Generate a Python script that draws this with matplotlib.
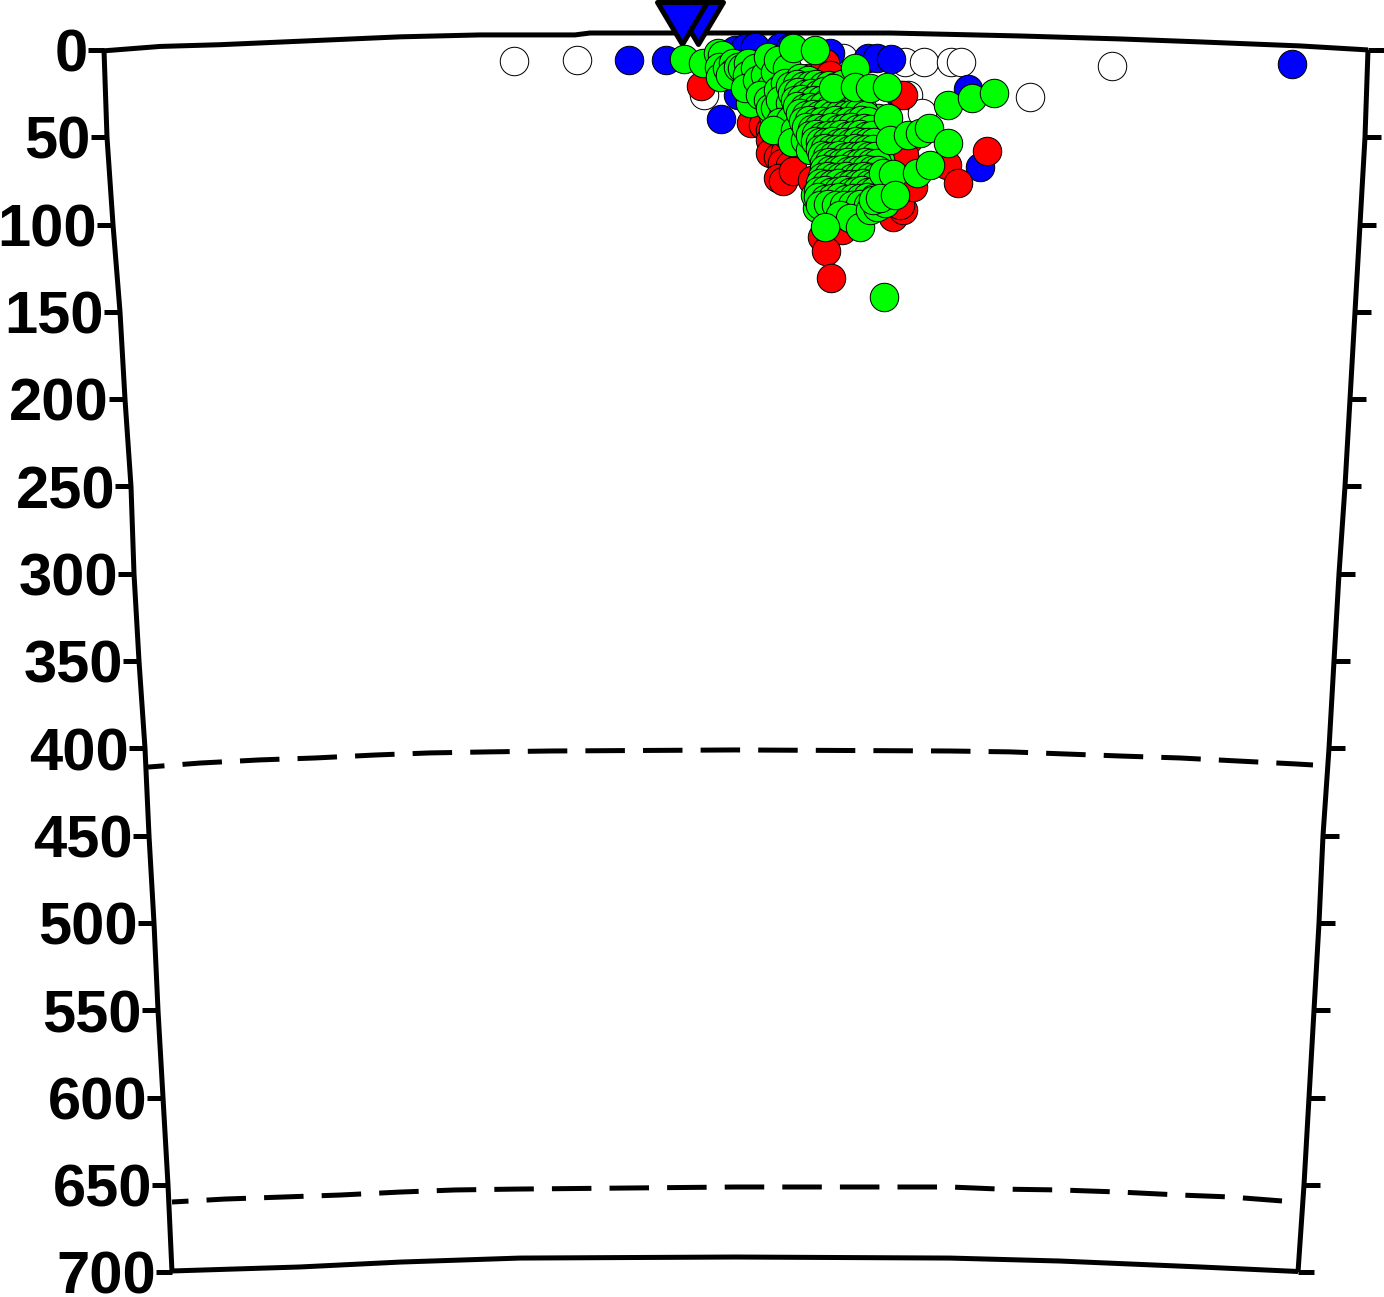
import matplotlib
matplotlib.use("Agg")
import matplotlib.pyplot as plt
from matplotlib.path import Path

# depth ticks and the curved frame (x = distance along the section, y = depth in km)
depth_ticks = [0, 50, 100, 150, 200, 250, 300, 350, 400, 450, 500, 550, 600, 650, 700]
left_edge_x = [104, 107, 113, 120, 125, 131, 134, 139, 145, 149, 154, 158, 163, 168, 172]
right_edge_x = [1368, 1365, 1360, 1355, 1350, 1345, 1339, 1334, 1329, 1323, 1319, 1314, 1309, 1304, 1298]

top_x = [104, 160, 220, 300, 400, 480, 575, 590, 890, 1020, 1120, 1200, 1300, 1368]
top_depth = [0.5, -2, -3, -5, -7.5, -8.6, -8.6, -9.7, -9.7, -8, -6.3, -4.6, -2.3, 0]
bottom_x = [172, 300, 400, 520, 735, 950, 1060, 1200, 1298]
bottom_depth = [699.3, 697, 694.2, 691.9, 691.3, 691.9, 693.6, 697, 699.6]

d410_x = [148, 200, 260, 315, 375, 430, 490, 550, 735, 950, 1010, 1065, 1122, 1180, 1237, 1295, 1313]
d410_depth = [410.7, 408.4, 406.6, 405.5, 403.8, 402.6, 402, 401.5, 400.9, 401.5, 402, 403.2, 404.4, 405.5, 407.2, 408.9, 409.5]
d660_x = [172, 225, 285, 340, 400, 455, 515, 735, 950, 1000, 1060, 1120, 1180, 1230, 1282]
d660_depth = [659.8, 658.1, 656.9, 655.8, 654.1, 652.9, 652.4, 651.2, 651.2, 652.4, 652.9, 654.1, 655.8, 656.9, 659.2]

# stations
station_x = [698, 682]
station_depth = [-15.5, -15.5]

# events, one pair of lists per class
white_x = [514, 577, 704, 843, 905, 924, 951, 961, 1030, 1112, 908, 922]
white_depth = [6.3, 5.7, 25.8, 4.6, 6.9, 6.9, 6.9, 6.9, 26.9, 9.2, 25.8, 36]

blue_x = [629, 666, 721, 738, 735, 745, 755, 780, 790, 830, 868, 877, 891, 968, 980, 1292, 900, 820]
blue_depth = [5.7, 5.7, 39.5, 25.8, 0, -1, -1.7, -1.7, -1, 1.7, 4.6, 4.6, 5.2, 22.3, 67, 8, 25.8, 88.8]

red_x = [701, 751, 763, 770, 770, 773, 770, 778, 785, 782, 790, 778, 783, 793, 812, 808, 825, 830, 826,
         822, 842, 826, 831, 893, 903, 900, 913, 908, 905, 904, 947, 958, 903, 987]
red_depth = [20.6, 41.8, 43, 45.8, 51.5, 57.3, 59, 61.3, 58.4, 64.7, 65.9, 73.3, 75, 69.3, 74.5, 16, 7.4, 14.3, 21.8,
             107.1, 103.1, 115.1, 130.6, 95.6, 91.6, 88.8, 78.5, 51.5, 63, 60.1, 65.9, 76.2, 25.8, 57.8]

# green: shallow chain on the left, then what lies under the core
green_x = [684, 703, 718, 722, 719, 720, 727, 733, 733, 730, 738, 742, 748, 747, 755, 753, 750, 745, 757, 765,
           770, 768, 775, 778, 760, 768, 773, 770, 775, 783, 778, 790, 787, 793, 815, 785, 800, 780, 790, 795,
           800, 780, 790, 787, 773, 795, 800, 792, 805, 810, 808,
           817, 815, 878, 882, 880, 875, 880]
green_depth = [5.2, 7.4, 1.7, 2.9, 9.7, 15.5, 10.3, 7.4, 12.6, 14.3, 9.7, 10.3, 7.4, 14.3, 10.3, 21.2, 30.4, 21.8, 17.2, 14.3,
               21.8, 4, 12.6, 5.7, 25.8, 28.6, 37.2, 33.2, 33.2, 37.2, 22.9, 21.8, 10.3, -1.1, 0, 18.9, 16, 28.6, 30.4, 28.6,
               24, 41.2, 40.1, 48.7, 45.8, 45.8, 35.5, 52.7, 51.5, 57.3, 17.2,
               90.5, 83, 38.9, 42.9, 51.5, 57.3, 63]

# green: the dense core, read row by row
green_x += [790, 797, 803, 810, 816, 823, 829, 836, 842,
            792, 798, 805, 811, 818, 824, 831, 837, 844, 850,
            795, 801, 808, 814, 821, 827, 834, 840, 847, 853, 860,
            797, 804, 810, 817, 823, 830, 836, 843, 849, 856, 862,
            800, 806, 813, 819, 826, 832, 839, 845, 852, 858, 865,
            803, 809, 816, 822, 829, 835, 842, 848, 855, 861, 868,
            806, 812, 818, 825, 831, 838, 844, 851, 857, 864, 870,
            810, 816, 822, 828, 834, 841, 847, 853, 860, 866, 872,
            815, 820, 826, 832, 838, 844, 850, 856, 862, 868, 874,
            820, 825, 831, 837, 843, 849, 855, 861, 867, 873,
            822, 827, 833, 839, 845, 851, 857, 863, 869, 875,
            824, 829, 835, 841, 847, 853, 859, 865, 871, 877,
            824, 830, 836, 842, 848, 854, 860, 866, 872, 878,
            822, 828, 834, 840, 846, 852, 858, 864, 870, 876,
            820, 826, 832, 838, 845, 851, 857, 863, 869, 875,
            818, 825, 831, 838, 844, 850, 856, 862, 868, 874,
            818, 825, 832, 839, 846, 853, 860, 867, 874,
            820, 828, 836, 844, 852, 860, 868, 876]
green_depth += [20.4, 19.6, 20.9, 20, 19.3, 20.7, 19.9, 20.5, 19.5,
                24.8, 24, 25.3, 24.4, 25, 23.8, 24.9, 24.2, 25.4, 24.6,
                28.9, 28, 29.4, 28.4, 28.9, 29.6, 28.2, 28.8, 29.3, 28.1, 29,
                32.2, 33.2, 32.6, 33, 32, 33.4, 32.5, 33.1, 32.3, 32.9, 33.3,
                36.3, 37, 36.7, 37.4, 36.1, 37.2, 36.5, 37.1, 36.9, 36.2, 37.3,
                40.9, 40.2, 41.2, 40.5, 41, 40, 41.3, 40.6, 41.1, 40.4, 40.8,
                44.3, 45, 44.6, 45.3, 44.1, 45.1, 44.7, 44.4, 45.2, 44.8, 45,
                48.9, 48.3, 49.2, 48.6, 49, 48.1, 49.3, 48.7, 48.4, 49.1, 48.8,
                52.4, 53, 52.7, 52.2, 53.2, 52.6, 53.1, 52.3, 52.9, 52.5, 53,
                56.9, 56.3, 57, 56.5, 56.8, 57.2, 56.4, 56.9, 56.6, 57,
                60.4, 61, 60.7, 60.2, 61.2, 60.6, 60.9, 60.3, 61, 60.5,
                64.9, 64.3, 65, 64.6, 64.2, 65.1, 64.7, 64.4, 65, 64.6,
                68.4, 69, 68.7, 68.2, 69.1, 68.6, 68.9, 68.3, 69, 68.5,
                72.9, 72.3, 73, 72.6, 72.2, 73.1, 72.7, 72.4, 73, 72.6,
                76.4, 77, 76.7, 76.2, 77.1, 76.6, 76.9, 76.3, 77, 76.5,
                81, 80.4, 81.1, 80.7, 80.3, 81.2, 80.8, 80.5, 81.1, 80.6,
                84.5, 85.1, 84.8, 84.3, 85.2, 84.7, 85, 84.4, 85,
                88.9, 88.3, 89, 88.6, 88.9, 88.4, 89, 88.6]

# green: the outer ones that sit on top
green_x += [840, 850, 825, 860, 870, 877, 885, 855, 833, 855, 870, 887, 888, 890,
            908, 920, 929, 948, 948, 972, 994, 883, 893, 917, 930, 873, 880, 895, 884]
green_depth += [94.5, 96.2, 101.4, 101.4, 91.6, 89.9, 87.6, 10.3, 21.8, 21.2, 21.8, 21.2, 38.9, 51.5,
                48.7, 47.5, 44.7, 53.3, 31.5, 27.5, 24.6, 70.4, 71, 70.4, 65.9, 85.9, 84.8, 83, 141.5]

fig = plt.figure(figsize=(13.84, 12.97), dpi=100)
ax = fig.add_axes([0, 0, 1, 1])
ax.set_xlim(0, 1384)
ax.set_ylim(714.2, -28.6)
ax.axis("off")

lw = 3.6
for xs, ds in [(top_x, top_depth), (bottom_x, bottom_depth), (left_edge_x, depth_ticks), (right_edge_x, depth_ticks)]:
    ax.plot(xs, ds, color="black", lw=lw, solid_capstyle="butt", solid_joinstyle="miter")

# ticks go 16 px outwards on both edges
for d, xl, xr in zip(depth_ticks, left_edge_x, right_edge_x):
    ax.plot([xl - 16, xl], [d, d], color="black", lw=lw, solid_capstyle="butt")
    ax.plot([xr, xr + 16], [d, d], color="black", lw=lw, solid_capstyle="butt")
    ax.annotate(str(d), (xl - 16, d), xytext=(0, -4.5), textcoords="offset points", ha="right", va="center",
                fontsize=43, fontweight="bold", family="Liberation Sans")

for xs, ds in [(d410_x, d410_depth), (d660_x, d660_depth)]:
    ax.plot(xs, ds, color="black", lw=lw, linestyle=(4.6, (7.9, 3.62)))

circle = dict(s=420, edgecolors="black", linewidths=0.72, zorder=3, clip_on=False)
ax.scatter(white_x, white_depth, c="white", **circle)
ax.scatter(blue_x, blue_depth, c="#0000ff", **circle)
ax.scatter(red_x, red_depth, c="#ff0000", **circle)
ax.scatter(green_x, green_depth, c="#00ff00", **circle)

tri = Path([(-25, 21), (25, 21), (0, -21), (-25, 21)], closed=True)
ax.scatter(station_x, station_depth, marker=tri, s=1296, c="#0000ff", edgecolors="black",
           linewidths=3.6, zorder=2.5, clip_on=False)

fig.savefig("out.png", dpi=100)
